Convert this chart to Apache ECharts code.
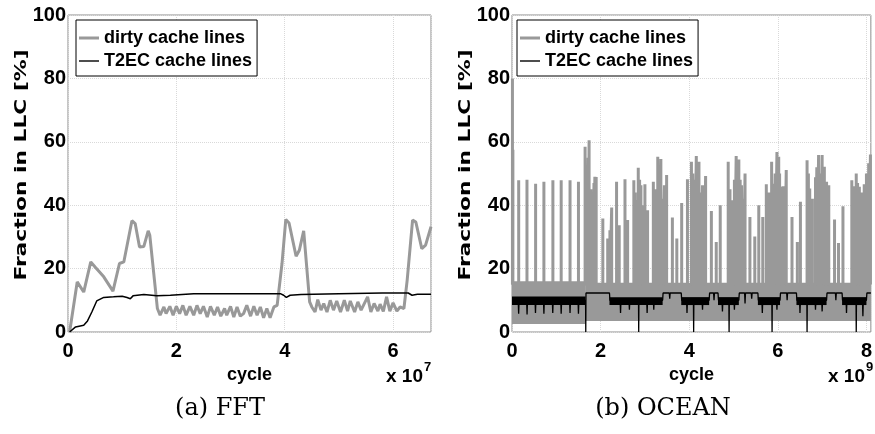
<!DOCTYPE html>
<html lang="en">
<head>
    <meta charset="UTF-8">
    <title>Fraction in LLC</title>
    <script src="https://cdn.jsdelivr.net/npm/echarts@6.0.0/dist/echarts.min.js"></script>
    <style>
        body { margin: 0; padding: 0; background-color: #fff; }
        #chart { width: 875px; height: 434px; }
    </style>
</head>
<body>
<div id="chart"></div>
<script>
    // FFT, x in units of 1e7 cycles
    const fftDirtyX = [0.03, 0.17, 0.29, 0.42, 0.50, 0.66, 0.83, 0.95, 1.03, 1.18, 1.24, 1.32, 1.40, 1.48, 1.51,
        1.65, 1.70, 1.77, 1.81, 1.88, 1.94, 2.00, 2.06, 2.12, 2.18, 2.25, 2.32, 2.38, 2.44, 2.50, 2.57, 2.63,
        2.70, 2.76, 2.82, 2.89, 2.93, 3.00, 3.06, 3.12, 3.18, 3.24, 3.30, 3.37, 3.43, 3.49, 3.55, 3.61, 3.67,
        3.73, 3.80, 3.86, 3.95, 4.02, 4.08, 4.21, 4.27, 4.35, 4.46, 4.50, 4.56, 4.61, 4.67, 4.72, 4.78, 4.84,
        4.90, 4.96, 5.03, 5.10, 5.16, 5.21, 5.29, 5.35, 5.41, 5.53, 5.59, 5.65, 5.72, 5.76, 5.82, 5.88, 5.94,
        6.00, 6.07, 6.13, 6.20, 6.26, 6.36, 6.42, 6.53, 6.60, 6.70];
    const fftDirty = [0, 15.8, 12.6, 22.1, 20.5, 17.4, 12.9, 21.6, 22.1, 35.1, 34.2, 26.8, 27.0, 31.9, 30.5,
        7.4, 5.3, 7.9, 5.8, 8.1, 5.3, 8.1, 5.8, 8.4, 5.3, 8.1, 5.3, 8.4, 5.8, 8.1, 4.7, 8.1,
        5.3, 7.9, 5.0, 7.4, 5.3, 8.1, 4.7, 7.9, 5.0, 5.8, 8.4, 5.0, 8.1, 5.3, 7.9, 4.5, 7.4,
        4.5, 7.9, 8.4, 21.6, 35.5, 34.4, 23.9, 25.8, 31.9, 9.5, 7.9, 6.3, 10.2, 6.9, 9.0, 6.3, 10.0,
        6.9, 9.8, 6.3, 10.0, 6.6, 9.8, 6.3, 9.5, 6.9, 11.1, 6.3, 9.0, 6.6, 8.8, 6.5, 11.1, 6.6,
        9.2, 6.6, 7.9, 7.4, 16.3, 35.3, 34.7, 26.3, 27.4, 33.2];
    const fftT2ecX = [0.03, 0.14, 0.29, 0.36, 0.44, 0.53, 0.66, 0.84, 1.00, 1.09, 1.15, 1.20, 1.40, 1.64, 1.89,
        2.32, 3.00, 3.60, 3.92, 3.98, 4.03, 4.10, 4.30, 5.00, 5.80, 6.28, 6.35, 6.38, 6.45, 6.70];
    const fftT2ec = [0, 1.6, 2.1, 3.5, 6.3, 9.8, 10.9, 11.1, 11.3, 10.9, 10.5, 11.4, 11.8, 11.4, 11.6,
        12.1, 12.1, 12.1, 12.1, 11.6, 10.9, 11.6, 11.8, 12.1, 12.3, 12.3, 11.6, 11.3, 11.9, 11.9];

    // OCEAN, x in units of 1e9 cycles
    const oceanBase = 15;
    const oceanSpikeX = [0.01, 0.02, 0.151, 0.338, 0.533, 0.72, 0.923, 1.11, 1.31, 1.50, 1.65, 1.69, 1.74, 1.78,
        1.83, 1.87, 1.90, 2.05, 2.16, 2.21, 2.25, 2.36, 2.42, 2.55, 2.61, 2.75, 2.80, 2.85, 2.91, 3.00, 3.06,
        3.19, 3.29, 3.36, 3.44, 3.49, 3.62, 3.72, 3.83, 3.96, 4.05, 4.16, 4.22, 4.30, 4.37, 4.50, 4.61, 4.70,
        4.88, 4.97, 5.06, 5.12, 5.18, 5.26, 5.37, 5.48, 5.57, 5.66, 5.74, 5.86, 5.91, 5.98, 6.02, 6.07, 6.19,
        6.32, 6.44, 6.51, 6.66, 6.72, 6.85, 6.92, 7.00, 7.05, 7.10, 7.15, 7.28, 7.37, 7.47, 7.67, 7.77, 7.84,
        7.95, 8.05, 8.09];
    const oceanSpikeTop = [80, 57.5, 47.9, 48, 46.8, 47.4, 47.9, 47.9, 47.9, 47.4, 58.4, 52, 60.5, 45,
        44, 49, 48.9, 35.8, 29.5, 32.1, 39.3, 47.4, 33.7, 48.2, 35.3, 47.9, 41.6, 51.8, 46.3, 46.6, 38.4,
        47.4, 55.3, 54.6, 46.3, 49.5, 36.1, 29.5, 40.7, 48.2, 53.7, 55.5, 53.7, 46.3, 49.2, 38.2, 28.4, 40.0,
        53.7, 41.6, 55.5, 54.4, 46.3, 50.0, 36.3, 30.1, 40.0, 36.3, 46.6, 53.7, 46.8, 56.8, 55.3, 45.8, 51.1,
        36.3, 28.4, 41.1, 54.2, 45.3, 48.8, 55.8, 55.8, 52.1, 47.4, 46.3, 35.5, 28.1, 39.7, 47.9, 50.0, 45.8,
        46.6, 53.2, 56];
    // the fainter spikes packed inside the busy stretches
    const oceanClusterX = [1.67, 1.72, 1.80, 1.85, 2.78, 2.88, 2.95, 3.24, 3.32, 3.40, 4.08, 4.12, 4.19, 4.26,
        4.33, 4.92, 5.02, 5.09, 5.15, 5.22, 5.80, 5.94, 6.04, 6.12, 6.15, 6.69, 6.78, 6.88, 6.96, 7.03, 7.12,
        7.71, 7.80, 7.90, 8.00];
    const oceanClusterTop = [50, 55, 40, 47, 44, 48, 40, 45, 50, 42, 50, 48, 50, 44,
        42, 45, 48, 50, 48, 42, 44, 50, 50, 46, 42, 50, 42, 52, 50, 50, 44,
        46, 47, 44, 50];
    // dense part of the dirty trace: [x start, x end, low, high]
    const oceanDirtyBand = [[0, 1.65, 2.5, 16], [1.65, 8.1, 3.5, 15.5]];
    const oceanT2ec = [[0, 10], [0.14, 10], [0.15, 5.8], [0.16, 10], [0.33, 10], [0.34, 5.5], [0.35, 10],
        [0.52, 10], [0.53, 6], [0.54, 10], [0.71, 10], [0.72, 5.8], [0.73, 10], [0.91, 10], [0.92, 6], [0.93, 10],
        [1.10, 10], [1.11, 5.8], [1.12, 10], [1.30, 10], [1.31, 6], [1.32, 10], [1.49, 10], [1.50, 5.8], [1.51, 10],
        [1.66, 10], [1.665, 0], [1.67, 12.3], [2.2, 12.3], [2.21, 10], [2.44, 10], [2.45, 6], [2.46, 10],
        [2.64, 10], [2.65, 7], [2.66, 10], [2.855, 10], [2.86, 0], [2.865, 10], [3.04, 10], [3.05, 6], [3.06, 10],
        [3.19, 10], [3.2, 7], [3.21, 10], [3.4, 10], [3.41, 12.3], [3.55, 12.3], [3.56, 10.5], [3.57, 12.3],
        [3.82, 12.3], [3.83, 10], [3.94, 10], [3.95, 6], [3.96, 10], [4.095, 10], [4.10, 0], [4.105, 10],
        [4.29, 10], [4.3, 7], [4.31, 10], [4.45, 10], [4.46, 12.3], [4.55, 12.3], [4.56, 10], [4.57, 12.3],
        [4.65, 12.3], [4.66, 10], [4.74, 10], [4.75, 6.5], [4.76, 10], [4.895, 10], [4.90, 0], [4.905, 10],
        [5.01, 10], [5.02, 7], [5.03, 10], [5.12, 10], [5.13, 12.3], [5.25, 12.3], [5.26, 9], [5.27, 12.3],
        [5.40, 12.3], [5.41, 10.5], [5.42, 12.3], [5.55, 12.3], [5.56, 10], [5.64, 10], [5.65, 6], [5.66, 10],
        [5.865, 10], [5.87, 0], [5.875, 10], [5.97, 10], [5.98, 7], [5.99, 10], [6.05, 10], [6.06, 12.3],
        [6.2, 12.3], [6.21, 10], [6.22, 12.3], [6.42, 12.3], [6.43, 10], [6.49, 10], [6.5, 6], [6.51, 10],
        [6.655, 10], [6.66, 0], [6.665, 10], [6.84, 10], [6.85, 7], [6.86, 10], [6.99, 10], [7.0, 6.5], [7.01, 10],
        [7.1, 10], [7.11, 12.3], [7.3, 12.3], [7.31, 10], [7.32, 12.3], [7.45, 12.3], [7.46, 10], [7.54, 10],
        [7.55, 6], [7.56, 10], [7.765, 10], [7.77, 0], [7.775, 10], [7.91, 10], [7.92, 5], [7.93, 10], [8.0, 10],
        [8.01, 12.3], [8.1, 12.3]];
    const oceanT2ecBand = [[0, 1.66, 8.5, 11.2], [2.2, 3.4, 8.5, 11], [3.82, 4.45, 8.5, 11], [4.65, 5.12, 8.5, 11],
        [5.55, 6.05, 8.5, 11], [6.42, 7.1, 8.5, 11], [7.45, 8.0, 8.5, 11]];

    const yTicks = [0, 20, 40, 60, 80, 100];

    const GRAY = '#999999';
    const SANS = '"Liberation Sans", Arial, sans-serif';

    const spikes = oceanSpikeX.map((x, i) => [x, oceanSpikeTop[i]])
        .concat(oceanClusterX.map((x, i) => [x, oceanClusterTop[i]]))
        .sort((a, b) => a[0] - b[0]);
    const oceanDirty = [];
    spikes.forEach(([x, top]) => {
        oceanDirty.push([x, oceanBase], [x, top], [x, oceanBase]);
    });

    function bandRect(params, api) {
        const a = api.coord([api.value(0), api.value(3)]);
        const b = api.coord([api.value(1), api.value(2)]);
        return {
            type: 'rect',
            shape: { x: a[0], y: a[1], width: b[0] - a[0], height: b[1] - a[1] },
            style: { fill: api.visual('color'), opacity: api.visual('opacity') }
        };
    }

    const labelStyle = { color: '#000', fontWeight: 'bold', fontSize: 20, fontFamily: SANS };
    const splitStyle = { show: true, lineStyle: { color: '#d9d9d9', type: 'dotted', width: 1 } };

    function xAxis(idx, max) {
        return {
            type: 'value', gridIndex: idx, min: 0, max: max, interval: 2,
            name: 'cycle', nameLocation: 'middle', nameGap: 29,
            nameTextStyle: { color: '#000', fontWeight: 'bold', fontSize: 18, fontFamily: SANS },
            axisLine: { show: false }, axisTick: { show: false },
            axisLabel: Object.assign({ margin: 9, showMaxLabel: false }, labelStyle),
            splitLine: splitStyle
        };
    }

    function yAxis(idx) {
        return {
            type: 'value', gridIndex: idx, min: yTicks[0], max: yTicks[yTicks.length - 1], interval: 20,
            axisLine: { show: false }, axisTick: { show: false },
            axisLabel: Object.assign({ margin: 2 }, labelStyle),
            splitLine: splitStyle
        };
    }

    function legend(left) {
        return {
            left: left, top: 20, orient: 'vertical',
            data: [
                { name: 'dirty cache lines', icon: 'path://M0 0H20V3H0Z' },
                { name: 'T2EC cache lines', icon: 'path://M0 0H20V1.4H0Z' }
            ],
            itemWidth: 20, itemHeight: 14, itemGap: 5,
            padding: [9, 5, 6, 3],
            borderColor: '#000', borderWidth: 1, backgroundColor: '#fff',
            textStyle: { color: '#000', fontWeight: 'bold', fontSize: 18, fontFamily: SANS }
        };
    }

    function yTitle(x) {
        return {
            type: 'text', x: x, y: 165, rotation: Math.PI / 2, scaleX: 1.36,
            style: {
                text: 'Fraction in LLC [%]', fill: '#000', align: 'center', verticalAlign: 'middle',
                fontFamily: '"DejaVu Sans", sans-serif', fontWeight: 'bold', fontSize: 16
            }
        };
    }

    function multiplier(right, exp) {
        return [
            { type: 'text', x: right - 8, y: 377,
              style: { text: 'x 10', fill: '#000', align: 'right', verticalAlign: 'middle',
                       fontFamily: SANS, fontWeight: 'bold', fontSize: 19 } },
            { type: 'text', x: right - 7, y: 367,
              style: { text: exp, fill: '#000', align: 'left', verticalAlign: 'middle',
                       fontFamily: SANS, fontWeight: 'bold', fontSize: 13 } }
        ];
    }

    function caption(x, text) {
        return {
            type: 'text', x: x, y: 409,
            style: { text: text, fill: '#000', align: 'center', verticalAlign: 'middle',
                     fontFamily: '"DejaVu Serif", serif', fontSize: 24 }
        };
    }

    const chart = echarts.init(document.getElementById('chart'));
    chart.setOption({
        animation: false,
        grid: [
            { left: 68, right: 444, top: 15, bottom: 102, show: true, borderColor: '#8c8c8c', borderWidth: 1 },
            { left: 512, right: 2, top: 15, bottom: 102, show: true, borderColor: '#8c8c8c', borderWidth: 1 }
        ],
        xAxis: [xAxis(0, 6.7), xAxis(1, 8.1)],
        yAxis: [yAxis(0), yAxis(1)],
        legend: [legend(76), legend(517)],
        series: [
            {
                name: 'dirty cache lines', type: 'line', xAxisIndex: 0, yAxisIndex: 0,
                symbol: 'none', data: fftDirtyX.map((x, i) => [x, fftDirty[i]]),
                lineStyle: { color: GRAY, width: 3 }, itemStyle: { color: GRAY }
            },
            {
                name: 'T2EC cache lines', type: 'line', xAxisIndex: 0, yAxisIndex: 0,
                symbol: 'none', data: fftT2ecX.map((x, i) => [x, fftT2ec[i]]),
                lineStyle: { color: '#000', width: 1.5 }, itemStyle: { color: '#000' }
            },
            {
                name: 'dirty band', type: 'custom', xAxisIndex: 1, yAxisIndex: 1, silent: true,
                renderItem: bandRect, data: oceanDirtyBand, encode: { x: [0, 1], y: [2, 3] },
                itemStyle: { color: GRAY, opacity: 0.88 }
            },
            {
                name: 'dirty cache lines', type: 'line', xAxisIndex: 1, yAxisIndex: 1,
                symbol: 'none', data: oceanDirty,
                lineStyle: { color: GRAY, width: 3, join: 'bevel', cap: 'butt' }, itemStyle: { color: GRAY }
            },
            {
                name: 'T2EC band', type: 'custom', xAxisIndex: 1, yAxisIndex: 1, silent: true,
                renderItem: bandRect, data: oceanT2ecBand, encode: { x: [0, 1], y: [2, 3] },
                itemStyle: { color: '#000', opacity: 1 }
            },
            {
                name: 'T2EC cache lines', type: 'line', xAxisIndex: 1, yAxisIndex: 1,
                symbol: 'none', data: oceanT2ec,
                lineStyle: { color: '#000', width: 1.3 }, itemStyle: { color: '#000' }
            }
        ],
        graphic: [
            yTitle(22), yTitle(466),
            ...multiplier(431, '7'), ...multiplier(873, '9'),
            caption(220, '(a) FFT'), caption(663, '(b) OCEAN')
        ]
    });
</script>
</body>
</html>
